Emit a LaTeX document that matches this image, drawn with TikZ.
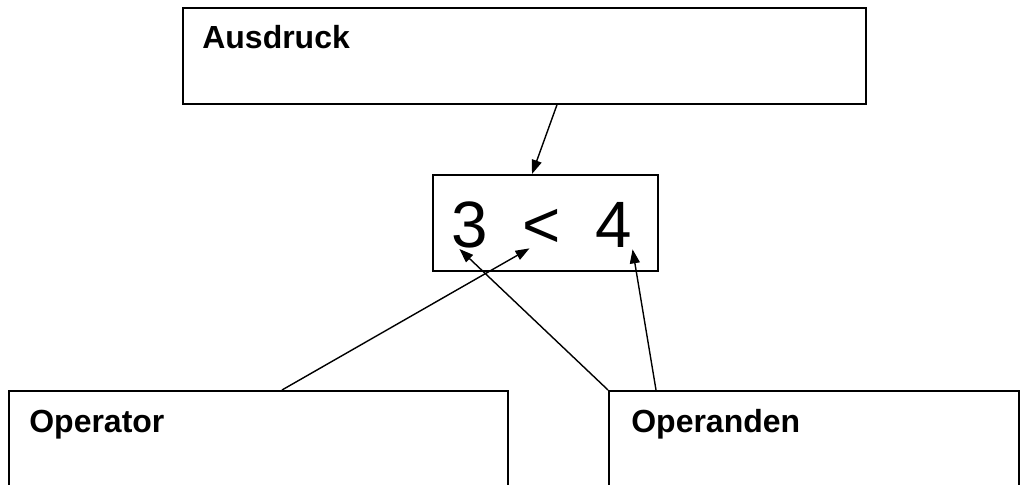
\documentclass[tikz,border=0pt]{standalone}
\usepackage{fontspec}
\setmainfont{Liberation Sans}
\usetikzlibrary{positioning,arrows.meta,calc}

\begin{document}
\begin{tikzpicture}[x=0.02cm,y=-0.02cm,
  every node/.style={font=\fontsize{18.2}{20}\selectfont\bfseries},
  box/.style={draw,line width=1pt,inner sep=0pt,anchor=north west},
  lbl/.style={inner sep=0pt,anchor=base west},
  sym/.style={font=\fontsize{37.3}{40}\selectfont,inner sep=0pt,anchor=base},
  arr/.style={line width=0.8pt,-{Triangle[length=0.28cm,width=0.2cm]}}]
\useasboundingbox (0,0) rectangle (1024,484);
% boxes
\node[box,minimum width=13.66cm,minimum height=1.92cm] (aus) at (182,7) {};
\node[box,minimum width=4.5cm,minimum height=1.92cm] (expr) at (432,174) {};
\node[box,minimum width=9.98cm,minimum height=2.4cm] (op) at (8,390) {};
\node[box,minimum width=8.2cm,minimum height=2.4cm] (opd) at (608,390) {};
% labels
\node[lbl] (auslbl) at ($(aus.north west)+(20,41)$) {Ausdruck};
\node[lbl] (oplbl) at ($(op.north west)+(21,42)$) {Operator};
\node[lbl] (opdlbl) at ($(opd.north west)+(23,42)$) {Operanden};
% 3 < 4
\node[sym] (d3) at (470,247) {3};
\node[sym] (lt) at (542,247) {<};
\node[sym] (d4) at (614,247) {4};
% arrows
\draw[arr] ($(aus.south west)+(375,0)$) -- ($(expr.north west)+(100,0)$);
\draw[arr] ($(op.north west)+(274,0)$) -- ($(lt.south west)+(7,1)$);
\draw[arr] (opd.north west) -- ($(d3.south west)+(8,1)$);
\draw[arr] ($(opd.north west)+(48,0)$) -- ($(d4.south east)+(0,2)$);
\end{tikzpicture}
\end{document}
